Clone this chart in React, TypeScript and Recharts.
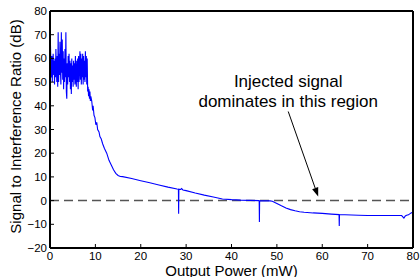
import React from 'react';
import { LineChart, Line, XAxis, YAxis, ReferenceLine } from 'recharts';

// output power (mW) and signal-to-interference ratio (dB)
const powerMw = [
  0, 0.05, 0.1, 0.2, 0.3, 0.4, 0.5, 0.6, 0.7, 0.8, 0.9, 1.0, 1.1, 1.2, 1.3, 1.4, 1.5, 1.6, 1.7, 1.8,
  1.9, 2.0, 2.1, 2.2, 2.3, 2.4, 2.5, 2.6, 2.7, 2.8, 2.9, 3.0, 3.1, 3.2, 3.3, 3.4, 3.5, 3.6, 3.7, 3.8,
  3.9, 4.0, 4.1, 4.2, 4.3, 4.4, 4.5, 4.6, 4.7, 4.8, 4.9, 5.0, 5.1, 5.2, 5.3, 5.4, 5.5, 5.6, 5.7, 5.8,
  5.9, 6.0, 6.1, 6.2, 6.3, 6.4, 6.5, 6.6, 6.7, 6.8, 6.9, 7.0, 7.1, 7.2, 7.3, 7.4, 7.5, 7.6, 7.7, 7.8,
  7.9, 8.0, 8.1, 8.2, 8.3, 8.4, 8.5, 8.6, 8.7, 8.8, 8.9, 9.0, 9.2, 9.4, 9.5, 9.7, 9.9, 10.1, 10.3, 10.5,
  10.8, 11.0, 11.3, 11.6, 12.0, 12.5, 13.0, 13.5, 14.0, 14.5, 15.0, 15.5, 16, 18, 20, 22, 24, 26, 28, 28.3,
  28.35, 28.4, 28.8, 29.0, 29.3, 30, 32, 34, 36, 38, 40, 42, 44, 46, 46.1, 46.15, 46.2, 47, 48.5, 49,
  50, 51, 52, 53, 54, 55, 56, 58, 60, 62, 63.7, 63.75, 63.8, 65, 68, 70, 72, 75, 77.5, 78.0,
  78.3, 78.6, 79.0, 79.5, 80,
];

const sirDb = [
  30, 48, 66, 58, 52, 61, 50, 58, 62, 53, 59, 49, 60, 52, 64, 55, 50, 61, 48, 71,
  50, 62, 53, 67, 55, 49, 71, 54, 68, 51, 63, 47, 60, 50, 64, 52, 71, 46, 43, 58,
  49, 61, 52, 62, 50, 59, 47, 58, 45, 60, 50, 57, 48, 59, 51, 58, 49, 61, 52, 48,
  59, 50, 60, 47, 61, 50, 57, 63, 51, 62, 49, 60, 52, 62, 49, 61, 51, 59, 50, 63,
  52, 61, 49, 60, 46, 48, 44, 47, 43, 46, 42, 44, 42, 38, 40, 36, 35, 32, 33, 30,
  29, 27, 26, 24, 22, 20, 17, 15, 13, 11.5, 10.6, 10.2, 10.1, 9.3, 8.4, 7.5, 6.6, 5.7, 4.9, 4.8,
  -5.5, 4.8, 4.7, 5.1, 4.5, 4.2, 3.2, 2.3, 1.5, 0.7, 0.4, 0.2, 0.1, 0.0, -0.1, -9, -0.1, -0.1, -0.1, -0.3,
  -1.2, -2.2, -3.1, -3.8, -4.3, -4.7, -4.9, -5.2, -5.4, -5.7, -5.9, -10.7, -5.9, -6.0, -6.2, -6.3, -6.3, -6.3, -6.3, -7.4,
  -6.5, -6.2, -6.0, -5.3, -4.8,
];

const xTicks = [0, 10, 20, 30, 40, 50, 60, 70, 80];
const yTicks = [-20, -10, 0, 10, 20, 30, 40, 50, 60, 70, 80];

// annotation arrow, from under the text to the curve
const arrowFrom = { x: 52.5, y: 37.6 };
const arrowTo = { x: 59.1, y: 1.7 };
const noteLines = ['Injected signal', 'dominates in this region'];

const data = powerMw.map((p, i) => ({ p, sir: sirDb[i] }));

const FONT = '"Liberation Sans", Arial, Helvetica, sans-serif';
const minus = (v: number) => (v < 0 ? '\u2212' + Math.abs(v) : String(v));

const ArrowNote = (props: any) => {
  const { x1, y1, x2, y2 } = props;
  const ang = Math.atan2(y2 - y1, x2 - x1);
  const len = 9;
  const half = 3.2;
  const bx = x2 - len * Math.cos(ang);
  const by = y2 - len * Math.sin(ang);
  const px = -Math.sin(ang) * half;
  const py = Math.cos(ang) * half;
  return (
    <g>
      <line x1={x1} y1={y1} x2={bx} y2={by} stroke="#000" strokeWidth={1} />
      <polygon
        points={`${x2},${y2} ${bx + px},${by + py} ${bx - px},${by - py}`}
        fill="#000"
      />
      <text x={x1} y={y1 - 24} textAnchor="middle" fontSize={17} fontFamily={FONT} fill="#000">
        {noteLines[0]}
      </text>
      <text x={x1} y={y1 - 4} textAnchor="middle" fontSize={17} fontFamily={FONT} fill="#000">
        {noteLines[1]}
      </text>
    </g>
  );
};

export default function App() {
  const tickStyle = { fontSize: 11.5, fill: '#000', fontFamily: FONT };
  const axisLine = { stroke: '#000', strokeWidth: 2 };
  return (
    <div style={{ position: 'absolute', left: 0, top: 0, background: '#fff' }}>
      <LineChart
        width={420}
        height={277}
        data={data}
        margin={{ top: 10, right: 6, bottom: 4, left: 10 }}
      >
        <XAxis
          dataKey="p"
          type="number"
          domain={[0, 80]}
          ticks={xTicks}
          allowDataOverflow
          height={25}
          tickSize={-4}
          tickMargin={8}
          axisLine={axisLine}
          tickLine={{ stroke: '#000' }}
          tick={tickStyle}
        />
        <XAxis
          xAxisId="top"
          orientation="top"
          dataKey="p"
          type="number"
          domain={[0, 80]}
          ticks={xTicks}
          allowDataOverflow
          height={1}
          tickSize={-4}
          axisLine={axisLine}
          tickLine={{ stroke: '#000' }}
          tick={false}
        />
        <YAxis
          type="number"
          domain={[-20, 80]}
          ticks={yTicks}
          allowDataOverflow
          width={40}
          tickSize={-4}
          tickMargin={7}
          axisLine={axisLine}
          tickLine={{ stroke: '#000' }}
          tick={tickStyle}
          tickFormatter={minus}
        />
        <YAxis
          yAxisId="right"
          orientation="right"
          type="number"
          domain={[-20, 80]}
          ticks={yTicks}
          allowDataOverflow
          width={1}
          tickSize={-4}
          axisLine={axisLine}
          tickLine={{ stroke: '#000' }}
          tick={false}
        />
        <ReferenceLine y={0} stroke="#555" strokeWidth={1.5} strokeDasharray="9 5" />
        <Line
          type="linear"
          dataKey="sir"
          stroke="#0000ff"
          strokeWidth={1.1}
          dot={false}
          isAnimationActive={false}
        />
        <ReferenceLine
          segment={[arrowFrom, arrowTo]}
          shape={ArrowNote}
          ifOverflow="visible"
        />
        <text
          x={21}
          y={126.5}
          transform="rotate(-90 21 126.5)"
          textAnchor="middle"
          fontSize={15}
          fontFamily={FONT}
          fill="#000"
        >
          Signal to Interference Ratio (dB)
        </text>
        <text x={231.5} y={276} textAnchor="middle" fontSize={15} fontFamily={FONT} fill="#000">
          Output Power (mW)
        </text>
      </LineChart>
    </div>
  );
}
